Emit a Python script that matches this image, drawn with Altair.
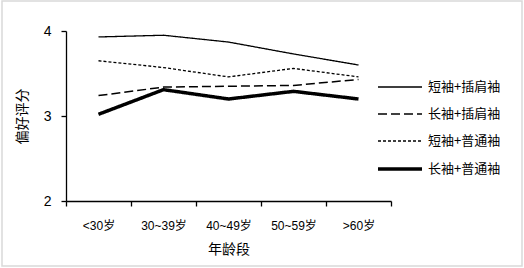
import altair as alt
import pandas as pd

ages = ["<30岁", "30~39岁", "40~49岁", "50~59岁", ">60岁"]
series_names = ["短袖+插肩袖", "长袖+插肩袖", "短袖+普通袖", "长袖+普通袖"]
short_raglan = [3.93, 3.95, 3.87, 3.73, 3.60]
long_raglan = [3.24, 3.34, 3.35, 3.36, 3.43]
short_normal = [3.65, 3.57, 3.46, 3.56, 3.46]
long_normal = [3.02, 3.31, 3.20, 3.29, 3.20]

rows = []
for name, vals in zip(series_names, [short_raglan, long_raglan, short_normal, long_normal]):
    for a, v in zip(ages, vals):
        rows.append({"年龄段": a, "系列": name, "偏好评分": v})
df = pd.DataFrame(rows)

FONT = "Liberation Sans, Arial, Noto Sans CJK SC"
CJK = "Noto Sans CJK SC"

lines = alt.Chart(df).mark_line(clip=False).encode(
    x=alt.X("年龄段:N", sort=ages,
            scale=alt.Scale(paddingInner=0, paddingOuter=0),
            axis=alt.Axis(title="年龄段", labelAngle=0, tickBand="extent",
                          tickSize=5, labelPadding=14, titlePadding=11,
                          labelFont=FONT, labelFontSize=12, labelColor="#000",
                          titleFont=CJK, titleFontSize=14, titleFontWeight="normal",
                          titleColor="#000", domainColor="#000", tickColor="#000",
                          domainWidth=1.3, tickWidth=1.3)),
    y=alt.Y("偏好评分:Q", scale=alt.Scale(domain=[2, 4], nice=False, zero=False),
            axis=alt.Axis(title="偏好评分", values=[2, 3, 4], format=".0f", tickSize=5,
                          labelPadding=10, titlePadding=14, grid=False,
                          labelFont=FONT, labelFontSize=14, labelColor="#000",
                          titleFont=CJK, titleFontSize=14, titleFontWeight="normal",
                          titleColor="#000", domainColor="#000", tickColor="#000",
                          domainWidth=1.3, tickWidth=1.3)),
    color=alt.Color("系列:N", sort=series_names,
                    scale=alt.Scale(domain=series_names, range=["#000"] * 4),
                    legend=alt.Legend(title=None, orient="none", legendX=321, legendY=44,
                                      symbolType="M-2,0H2", symbolSize=484,
                                      labelFont=CJK, labelFontSize=13, labelColor="#000",
                                      rowPadding=8, labelOffset=15, padding=0)),
    strokeDash=alt.StrokeDash("系列:N", sort=series_names,
                              scale=alt.Scale(domain=series_names,
                                              range=[[1, 0], [9, 4], [3, 2], [1, 0]])),
    strokeWidth=alt.StrokeWidth("系列:N", sort=series_names,
                                scale=alt.Scale(type="ordinal", domain=series_names,
                                                range=[1.3, 1.5, 1.3, 3.5])),
)

frame = alt.Chart(pd.DataFrame({"k": [0]})).mark_rect(
    fill=None, stroke="#d9d9d9", strokeWidth=1.5, clip=False
).encode(x=alt.value(-64), x2=alt.value(456), y=alt.value(-30), y2=alt.value(235))

chart = alt.layer(frame, lines).properties(
    width=325, height=170,
    padding={"left": 66, "top": 31, "right": 133, "bottom": 67},
    autosize=alt.AutoSizeParams(type="none"),
    background="white",
).configure_view(stroke=None)

chart.save("out.html", embed_options={"renderer": "svg", "actions": False})
